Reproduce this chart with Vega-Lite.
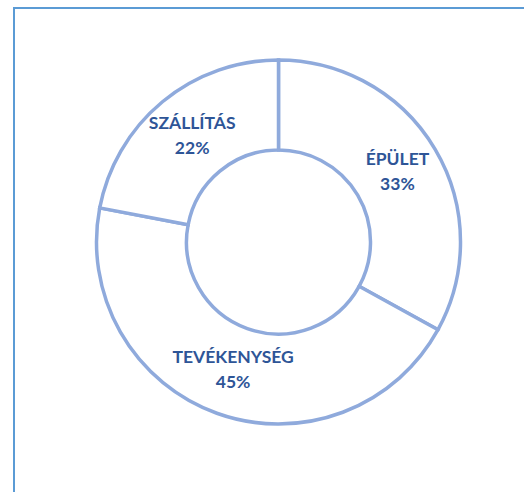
{
  "$schema": "https://vega.github.io/schema/vega-lite/v6.json",
  "autosize": "none",
  "width": 510,
  "height": 484,
  "padding": {"left": 14, "top": 8, "right": 0, "bottom": 0},
  "background": "white",
  "view": {"stroke": "#5b9bd5", "strokeWidth": 2, "fill": "white", "strokeDash": [510, 994, 484]},
  "data": {
    "values": [
      {"category": "ÉPÜLET", "share": 0.33},
      {"category": "TEVÉKENYSÉG", "share": 0.45},
      {"category": "SZÁLLÍTÁS", "share": 0.22}
    ]
  },
  "encoding": {
    "theta": {"field": "share", "type": "quantitative", "stack": true},
    "order": {"field": "category", "sort": "descending"}
  },
  "layer": [
    {
      "mark": {"type": "arc", "outerRadius": 182, "innerRadius": 92, "fill": "white", "stroke": "#8faadc", "strokeWidth": 3.5, "yOffset": -8, "xOffset": 9.5}
    },
    {
      "mark": {"type": "text", "radius": 137, "font": "Lato", "fontWeight": "bold", "fontSize": 17.5, "fill": "#2e5597", "yOffset": -8, "xOffset": 10.5, "dy": -12.5},
      "encoding": {"text": {"field": "category"}}
    },
    {
      "mark": {"type": "text", "radius": 137, "font": "Lato", "fontWeight": "bold", "fontSize": 17.5, "fill": "#2e5597", "yOffset": -8, "xOffset": 10.5, "dy": 12.5},
      "encoding": {"text": {"field": "share", "type": "quantitative", "format": ".0%"}}
    }
  ]
}
